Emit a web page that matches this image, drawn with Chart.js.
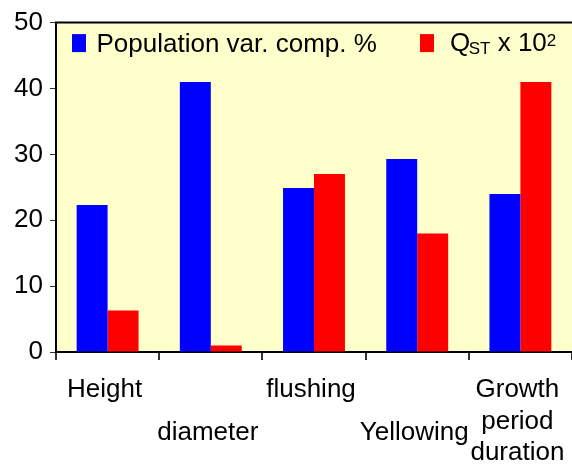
<!DOCTYPE html>
<html><head><meta charset="utf-8">
<script src="https://cdn.jsdelivr.net/npm/chart.js@4/dist/chart.umd.min.js"></script>
<style>html,body{margin:0;padding:0;background:#fff}#wrap{width:572px;height:464px;position:relative}</style>
</head><body><div id="wrap"><canvas id="c" width="572" height="464"></canvas></div>
<script>
// ---- data ----
const categories = ['Height', 'diameter', 'flushing', 'Yellowing', 'Growth period duration'];
const categoryLines = [['Height'], ['diameter'], ['flushing'], ['Yellowing'], ['Growth', 'period', 'duration']];
const categoryRow = [0, 1, 0, 1, 0];
const seriesNames = ['Population var. comp. %', 'QST x 10²'];
const popVarComp = [22.3, 41.0, 24.9, 29.3, 24.0];
const qstX100 = [6.3, 1.0, 27.0, 18.0, 41.0];
const yTicks = [0, 10, 20, 30, 40, 50];
const qstLabelParts = [
  { t: 'Q' }, { t: 'ST', sub: true }, { t: ' x 10' }, { t: '2', sup: true }
];

const FONT = '"Liberation Sans", Arial, Helvetica, sans-serif';
const BLUE = '#0000FF', RED = '#FF0000', PLOT_BG = '#FFFFCC';

const bgPlugin = {
  id: 'bg',
  beforeDraw(chart) {
    const { ctx, chartArea: a } = chart;
    ctx.save();
    ctx.fillStyle = PLOT_BG;
    ctx.fillRect(a.left, a.top, a.right - a.left, a.bottom - a.top);
    ctx.restore();
  },
  afterDraw(chart) {
    const { ctx, chartArea: a } = chart;
    ctx.save();
    // top frame line
    ctx.strokeStyle = '#000';
    ctx.lineWidth = 2;
    ctx.beginPath();
    ctx.moveTo(a.left - 1, a.top);
    ctx.lineTo(a.right, a.top);
    ctx.stroke();

    // legend
    const b1 = a.top + 29.5;
    ctx.fillStyle = BLUE;
    ctx.fillRect(a.left + 16, a.top + 11.5, 14, 18);
    ctx.fillStyle = '#000';
    ctx.textBaseline = 'alphabetic';
    ctx.textAlign = 'left';
    ctx.font = '26px ' + FONT;
    ctx.fillText(seriesNames[0], a.left + 40.5, b1);

    ctx.fillStyle = RED;
    ctx.fillRect(a.left + 364, a.top + 11.5, 14, 18);
    ctx.fillStyle = '#000';
    let x = a.left + 394;
    const b2 = a.top + 28;
    qstLabelParts.forEach(p => {
      let y = b2;
      if (p.sub) { ctx.font = '17px ' + FONT; y = b2 + 3.5; x -= 1.5; }
      else if (p.sup) { ctx.font = '17px ' + FONT; y = b2 - 4.5; }
      else ctx.font = '26px ' + FONT;
      ctx.fillText(p.t, x, y);
      x += ctx.measureText(p.t).width;
    });

    // category labels (staggered)
    const xs = chart.scales.x;
    ctx.font = '26px ' + FONT;
    ctx.textAlign = 'center';
    categoryLines.forEach((lines, i) => {
      const cx = xs.getPixelForValue(i) - 3;
      const base = a.bottom + 45 + categoryRow[i] * 43;
      lines.forEach((ln, k) => ctx.fillText(ln, cx, base + k * 31.5));
    });
    ctx.restore();
  }
};

new Chart(document.getElementById('c'), {
  type: 'bar',
  data: {
    labels: categories,
    datasets: [
      { label: seriesNames[0], data: popVarComp, backgroundColor: BLUE, borderWidth: 0 },
      { label: seriesNames[1], data: qstX100, backgroundColor: RED, borderWidth: 0 }
    ]
  },
  options: {
    responsive: false,
    animation: false,
    devicePixelRatio: 1,
    categoryPercentage: 0.6,
    barPercentage: 1.0,
    layout: { padding: { top: 19.5, right: 0, bottom: 0, left: 0 } },
    plugins: { legend: { display: false }, tooltip: { enabled: false } },
    scales: {
      x: {
        z: 1,
        offset: true,
        grid: { offset: true, drawOnChartArea: false, drawTicks: true, tickLength: 8, color: '#333', lineWidth: 2 },
        border: { color: '#000', width: 2 },
        ticks: { display: false },
        afterFit(s) { s.height = 112; }
      },
      y: {
        z: 1,
        min: 0, max: 50,
        afterBuildTicks(s) { s.ticks = yTicks.map(v => ({ value: v })); },
        grid: { drawOnChartArea: false, drawTicks: true, tickLength: 6, color: '#333', lineWidth: 1 },
        border: { color: '#000', width: 2 },
        ticks: { font: { size: 26, family: FONT }, color: '#000', padding: 7 },
        afterFit(s) { s.width = 56; }
      }
    }
  },
  plugins: [bgPlugin]
});
</script>
</body></html>
